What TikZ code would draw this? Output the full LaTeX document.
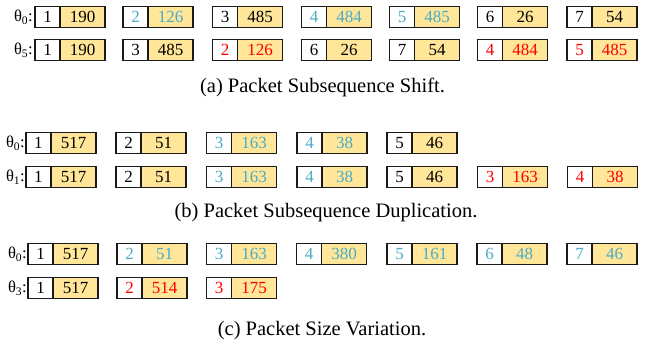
\documentclass[tikz,border=0pt]{standalone}
\usepackage{fontspec}
\setmainfont{Liberation Serif}
\definecolor{pktyellow}{HTML}{FFE699}
\definecolor{pktblue}{HTML}{4BACC6}
\definecolor{pktred}{HTML}{FF0000}
\definecolor{pktline}{HTML}{1A1A1A}
\tikzset{
  idxbox/.style={draw=pktline, line width=1.2pt, fill=white, minimum width=25pt, minimum height=21pt, inner sep=0pt, outer sep=0pt, font=\fontsize{17}{17}\selectfont},
  valbox/.style={draw=pktline, line width=1.2pt, fill=pktyellow, minimum width=45pt, minimum height=21pt, inner sep=0pt, outer sep=0pt, font=\fontsize{17}{17}\selectfont},
  thlabel/.style={anchor=east, inner sep=0pt, font=\fontsize{16.5}{16.5}\selectfont},
  caption/.style={inner sep=0pt, font=\fontsize{20.5}{20.5}\selectfont}
}
\newcommand\pkt[6]{%
  \node[idxbox, text=#6, anchor=west] (#1i) at (#2pt,#3pt) {#4};
  \node[valbox, text=#6, anchor=west] (#1v) at (#1i.east) {#5};
}
\begin{document}
\begin{tikzpicture}[x=1pt,y=1pt]
\useasboundingbox (0,0) rectangle (645,358);
\fill[white] (0,0) rectangle (645,358);
% ---- panel (a)
\def\ya{341}\def\yb{308}
\node[thlabel] (la1) at (33,\ya) {θ\textsubscript{0}:};
\node[thlabel] (la2) at (33,\yb) {θ\textsubscript{5}:};
\pkt{a1}{35}{\ya}{1}{190}{black}
\pkt{a2}{123}{\ya}{2}{126}{pktblue}
\pkt{a3}{212.5}{\ya}{3}{485}{black}
\pkt{a4}{301.5}{\ya}{4}{484}{pktblue}
\pkt{a5}{389.5}{\ya}{5}{485}{pktblue}
\pkt{a6}{477.5}{\ya}{6}{26}{black}
\pkt{a7}{567}{\ya}{7}{54}{black}
\pkt{b1}{35}{\yb}{1}{190}{black}
\pkt{b2}{123}{\yb}{3}{485}{black}
\pkt{b3}{212.5}{\yb}{2}{126}{pktred}
\pkt{b4}{301.5}{\yb}{6}{26}{black}
\pkt{b5}{389.5}{\yb}{7}{54}{black}
\pkt{b6}{477.5}{\yb}{4}{484}{pktred}
\pkt{b7}{567}{\yb}{5}{485}{pktred}
\node[caption] (capa) at (322.5,271) {(a) Packet Subsequence Shift.};
% ---- panel (b)
\def\yc{215}\def\yd{181}
\node[thlabel] (lb1) at (25,\yc) {θ\textsubscript{0}:};
\node[thlabel] (lb2) at (25,\yd) {θ\textsubscript{1}:};
\pkt{c1}{26}{\yc}{1}{517}{black}
\pkt{c2}{116}{\yc}{2}{51}{black}
\pkt{c3}{206.5}{\yc}{3}{163}{pktblue}
\pkt{c4}{297}{\yc}{4}{38}{pktblue}
\pkt{c5}{387}{\yc}{5}{46}{black}
\pkt{d1}{26}{\yd}{1}{517}{black}
\pkt{d2}{116}{\yd}{2}{51}{black}
\pkt{d3}{206.5}{\yd}{3}{163}{pktblue}
\pkt{d4}{297}{\yd}{4}{38}{pktblue}
\pkt{d5}{387}{\yd}{5}{46}{black}
\pkt{d6}{477.5}{\yd}{3}{163}{pktred}
\pkt{d7}{567.5}{\yd}{4}{38}{pktred}
\node[caption] (capb) at (326,145) {(b) Packet Subsequence Duplication.};
% ---- panel (c)
\def\ye{104}\def\yf{70}
\node[thlabel] (lc1) at (27,\ye) {θ\textsubscript{0}:};
\node[thlabel] (lc2) at (27,\yf) {θ\textsubscript{3}:};
\pkt{e1}{28}{\ye}{1}{517}{black}
\pkt{e2}{117}{\ye}{2}{51}{pktblue}
\pkt{e3}{206.5}{\ye}{3}{163}{pktblue}
\pkt{e4}{296.5}{\ye}{4}{380}{pktblue}
\pkt{e5}{387}{\ye}{5}{161}{pktblue}
\pkt{e6}{477}{\ye}{6}{48}{pktblue}
\pkt{e7}{567}{\ye}{7}{46}{pktblue}
\pkt{f1}{28}{\yf}{1}{517}{black}
\pkt{f2}{117}{\yf}{2}{514}{pktred}
\pkt{f3}{206.5}{\yf}{3}{175}{pktred}
\node[caption] (capc) at (322,27) {(c) Packet Size Variation.};
\end{tikzpicture}
\end{document}
